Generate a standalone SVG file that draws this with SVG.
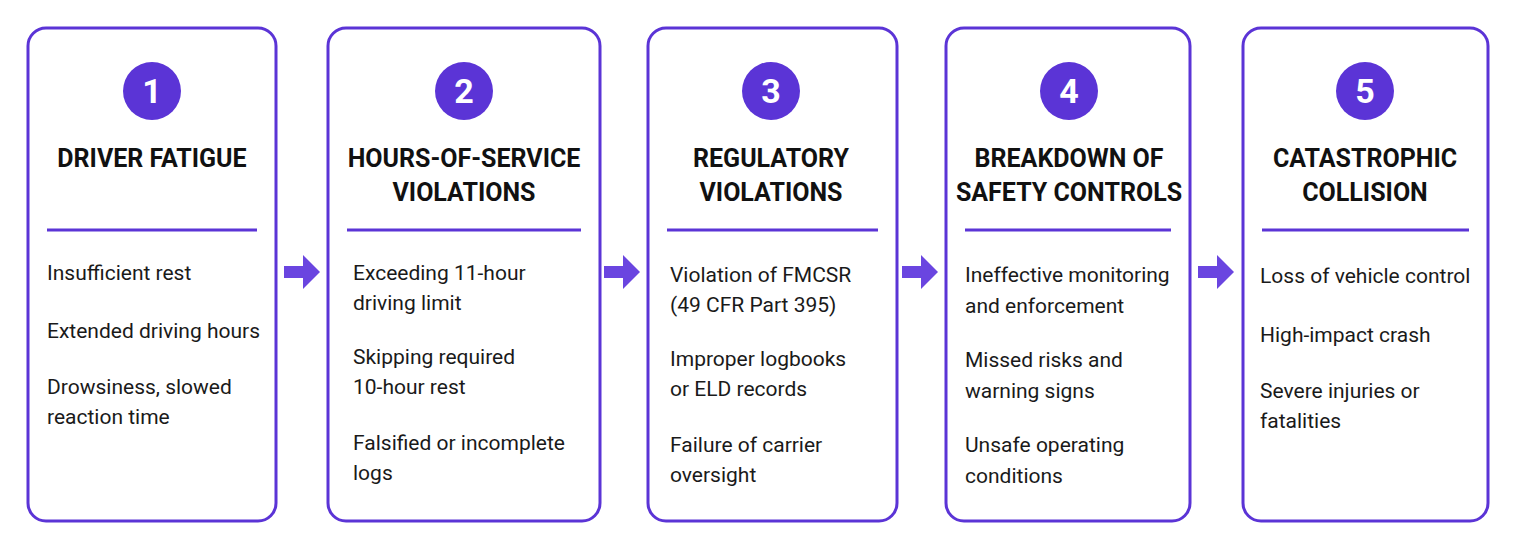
<svg xmlns="http://www.w3.org/2000/svg" width="1518" height="548" viewBox="0 0 1518 548">
<style>
.box{fill:#fff;stroke:#5b34d6;stroke-width:3}
.num{fill:#5b34d6}
.nt{font-family:Roboto,"Liberation Sans",sans-serif;font-weight:700;font-size:34px;fill:#fff;text-anchor:middle}
.h{font-family:Roboto,"Liberation Sans",sans-serif;font-weight:700;font-size:25px;fill:#111;text-anchor:middle}
.d{stroke:#5b34d6;stroke-width:3}
.t{font-family:Roboto,"Noto Sans",sans-serif;font-size:21px;fill:#1a1a1a}
.ar{fill:#6a45e0}
</style>
<rect width="1518" height="548" fill="#fff"/>
<g id="connectors">
<path class="ar" d="M284 266h19v-11l17 17-17 17v-11h-19z"/>
<path class="ar" d="M604 266h19v-11l17 17-17 17v-11h-19z"/>
<path class="ar" d="M902 266h19v-11l17 17-17 17v-11h-19z"/>
<path class="ar" d="M1198 266h19v-11l17 17-17 17v-11h-19z"/>
</g>
<g id="node1">
<rect class="box" x="28" y="28" width="248" height="493" rx="18"/>
<circle class="num" cx="152" cy="91" r="29"/><text class="nt" x="152" y="103">1</text>
<text class="h" x="152" y="167">DRIVER FATIGUE</text>
<line class="d" x1="47" y1="230" x2="257" y2="230"/>
<text class="t" x="47" y="280">Insufficient rest</text>
<text class="t" x="47" y="338">Extended driving hours</text>
<text class="t" x="47" y="394">Drowsiness, slowed</text>
<text class="t" x="47" y="424">reaction time</text>
</g>
<g id="node2">
<rect class="box" x="328" y="28" width="272" height="493" rx="18"/>
<circle class="num" cx="464" cy="91" r="29"/><text class="nt" x="464" y="103">2</text>
<text class="h" x="464" y="167">HOURS-OF-SERVICE</text>
<text class="h" x="464" y="201">VIOLATIONS</text>
<line class="d" x1="347" y1="230" x2="581" y2="230"/>
<text class="t" x="353" y="280">Exceeding 11-hour</text>
<text class="t" x="353" y="310">driving limit</text>
<text class="t" x="353" y="364">Skipping required</text>
<text class="t" x="353" y="394">10-hour rest</text>
<text class="t" x="353" y="450">Falsified or incomplete</text>
<text class="t" x="353" y="480">logs</text>
</g>
<g id="node3">
<rect class="box" x="648" y="28" width="249" height="493" rx="18"/>
<circle class="num" cx="771" cy="91" r="29"/><text class="nt" x="771" y="103">3</text>
<text class="h" x="771" y="167">REGULATORY</text>
<text class="h" x="771" y="201">VIOLATIONS</text>
<line class="d" x1="667" y1="230" x2="878" y2="230"/>
<text class="t" x="670" y="282">Violation of FMCSR</text>
<text class="t" x="670" y="312">(49 CFR Part 395)</text>
<text class="t" x="670" y="366">Improper logbooks</text>
<text class="t" x="670" y="396">or ELD records</text>
<text class="t" x="670" y="452">Failure of carrier</text>
<text class="t" x="670" y="482">oversight</text>
</g>
<g id="node4">
<rect class="box" x="946" y="28" width="244" height="493" rx="18"/>
<circle class="num" cx="1069" cy="91" r="29"/><text class="nt" x="1069" y="103">4</text>
<text class="h" x="1069" y="167">BREAKDOWN OF</text>
<text class="h" x="1069" y="201">SAFETY CONTROLS</text>
<line class="d" x1="965" y1="230" x2="1171" y2="230"/>
<text class="t" x="965" y="282">Ineffective monitoring</text>
<text class="t" x="965" y="313">and enforcement</text>
<text class="t" x="965" y="367">Missed risks and</text>
<text class="t" x="965" y="398">warning signs</text>
<text class="t" x="965" y="452">Unsafe operating</text>
<text class="t" x="965" y="483">conditions</text>
</g>
<g id="node5">
<rect class="box" x="1243" y="28" width="245" height="493" rx="18"/>
<circle class="num" cx="1365" cy="91" r="29"/><text class="nt" x="1365" y="103">5</text>
<text class="h" x="1365" y="167">CATASTROPHIC</text>
<text class="h" x="1365" y="201">COLLISION</text>
<line class="d" x1="1262" y1="230" x2="1469" y2="230"/>
<text class="t" x="1260" y="283">Loss of vehicle control</text>
<text class="t" x="1260" y="342">High-impact crash</text>
<text class="t" x="1260" y="398">Severe injuries or</text>
<text class="t" x="1260" y="428">fatalities</text>
</g>
</svg>
